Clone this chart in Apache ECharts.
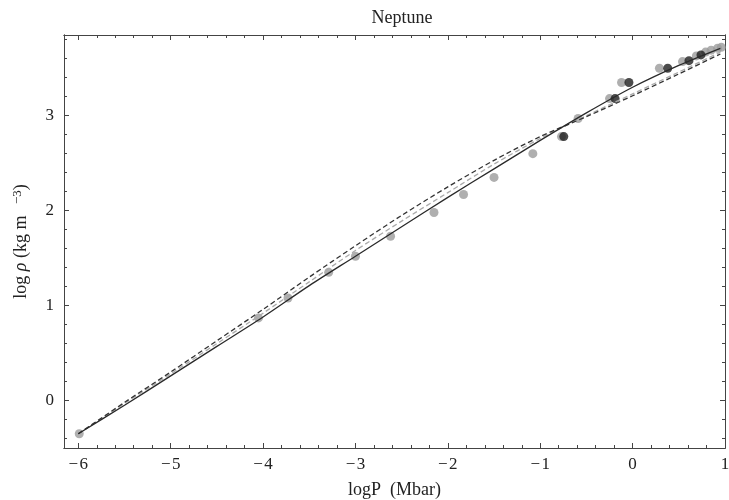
<!DOCTYPE html>
<html>
<head>
<meta charset="utf-8">
<script src="https://cdn.jsdelivr.net/npm/echarts@6/dist/echarts.min.js"></script>
<style>html,body{margin:0;padding:0;background:#fff}#c{width:729px;height:500px}</style>
</head>
<body>
<div id="c"></div>
<script>
// Curves (logP, log rho)
var curveX = [-6, -5.5, -5, -4.5, -4, -3.5, -3, -2.5, -2, -1.5, -1, -0.5, 0, 0.5, 0.95];
var solidY = [-0.35, -0.05, 0.26, 0.57, 0.88, 1.21, 1.52, 1.83, 2.14, 2.44, 2.74, 3.03, 3.30, 3.53, 3.71];
var darkDashY = [-0.35, -0.02, 0.30, 0.63, 0.96, 1.30, 1.63, 1.95, 2.25, 2.53, 2.78, 2.99, 3.21, 3.44, 3.65];
var lightDashY = [-0.35, -0.03, 0.28, 0.60, 0.92, 1.25, 1.58, 1.89, 2.19, 2.49, 2.76, 3.00, 3.23, 3.46, 3.67];

// Gray data points
var grayX = [-5.99, -4.05, -3.73, -3.29, -3.00, -2.62, -2.15, -1.83, -1.50, -1.08, -0.77, -0.59, -0.25, -0.12, 0.29, 0.54, 0.69, 0.79, 0.85, 0.92, 0.96];
var grayY = [-0.35, 0.87, 1.08, 1.35, 1.52, 1.73, 1.98, 2.17, 2.35, 2.60, 2.78, 2.97, 3.18, 3.35, 3.50, 3.57, 3.63, 3.67, 3.69, 3.71, 3.72];
// Black data points
var blackX = [-0.745, -0.19, -0.04, 0.38, 0.61, 0.74];
var blackY = [2.78, 3.18, 3.35, 3.50, 3.58, 3.64];

// Ticks
var xMajor = [-6, -5, -4, -3, -2, -1, 0, 1];
var yMajor = [0, 1, 2, 3];
var xMinor = [];
for (var i = -30; i <= 5; i++) { if (i % 5 !== 0) xMinor.push(i / 5); }
var yMinor = [];
for (var j = -2; j <= 19; j++) { if (j % 5 !== 0) yMinor.push(j / 5); }

function zip(a, b) { return a.map(function (v, k) { return [v, b[k]]; }); }
function fmt(v) { return v < 0 ? '\u2212\u200a' + Math.abs(v) : String(v); }

var XMIN = -6.155, XMAX = 1, YMIN = -0.5, YMAX = 3.85;
var font = 'Liberation Serif';
var lineCol = '#444';

function xAx(pos, major, show) {
  return {
    type: 'value', position: pos, min: XMIN, max: XMAX,
    axisLine: { show: true, onZero: false, lineStyle: { color: lineCol, width: 1 } },
    axisTick: { show: true, inside: true, length: major ? 5 : 3, customValues: major ? xMajor : xMinor, lineStyle: { color: lineCol } },
    axisLabel: { show: show, customValues: xMajor, formatter: fmt, color: '#222', fontFamily: font, fontSize: 17, margin: 8 },
    splitLine: { show: false },
    name: show ? 'logP  (Mbar)' : '',
    nameLocation: 'middle', nameGap: 33,
    nameTextStyle: { fontFamily: font, fontSize: 18, color: '#222' }
  };
}
function yAx(pos, major, show) {
  return {
    type: 'value', position: pos, min: YMIN, max: YMAX,
    axisLine: { show: true, onZero: false, lineStyle: { color: lineCol, width: 1 } },
    axisTick: { show: true, inside: true, length: major ? 5 : 3, customValues: major ? yMajor : yMinor, lineStyle: { color: lineCol } },
    axisLabel: { show: show, customValues: yMajor, formatter: fmt, color: '#222', fontFamily: font, fontSize: 17, margin: 10 },
    splitLine: { show: false },
    name: show ? '{a|log }{i|\u03c1}{a| (kg m }{s|\u22123}{a|)}' : '',
    nameLocation: 'middle', nameGap: 32, nameRotate: 90,
    nameTextStyle: {
      fontFamily: font, fontSize: 18, color: '#222',
      rich: {
        a: { fontFamily: font, fontSize: 18, color: '#222' },
        i: { fontFamily: font, fontSize: 18, fontStyle: 'italic', color: '#222' },
        s: { fontFamily: font, fontSize: 13, color: '#222', verticalAlign: 'top', padding: [0, 0, 8, 7] }
      }
    }
  };
}

var chart = echarts.init(document.getElementById('c'), null, { renderer: 'canvas' });
chart.setOption({
  animation: false,
  backgroundColor: '#fff',
  title: { text: 'Neptune', left: 397, top: 4, textAlign: 'center',
    textStyle: { fontFamily: font, fontSize: 18, fontWeight: 'normal', color: '#222' } },
  grid: { left: 64, right: 4, top: 35, bottom: 52, containLabel: false, outerBoundsMode: 'none' },
  xAxis: [xAx('bottom', true, true), xAx('bottom', false, false), xAx('top', true, false), xAx('top', false, false)],
  yAxis: [yAx('left', true, true), yAx('left', false, false), yAx('right', true, false), yAx('right', false, false)],
  series: [
    { type: 'scatter', data: zip(grayX, grayY), symbolSize: 9, itemStyle: { color: '#9b9b9b' }, z: 3 },
    { type: 'scatter', data: zip(blackX, blackY), symbolSize: 9, itemStyle: { color: '#1e1e1e' }, z: 4 },
    { type: 'line', data: zip(curveX, lightDashY), smooth: 0.3, showSymbol: false,
      lineStyle: { color: '#aaaaaa', width: 1.3, type: [5, 3] }, z: 5 },
    { type: 'line', data: zip(curveX, darkDashY), smooth: 0.3, showSymbol: false,
      lineStyle: { color: '#333333', width: 1.3, type: [5, 3] }, z: 6 },
    { type: 'line', data: zip(curveX, solidY), smooth: 0.3, showSymbol: false,
      lineStyle: { color: '#2a2a2a', width: 1.3 }, z: 7 }
  ]
});
</script>
</body>
</html>
